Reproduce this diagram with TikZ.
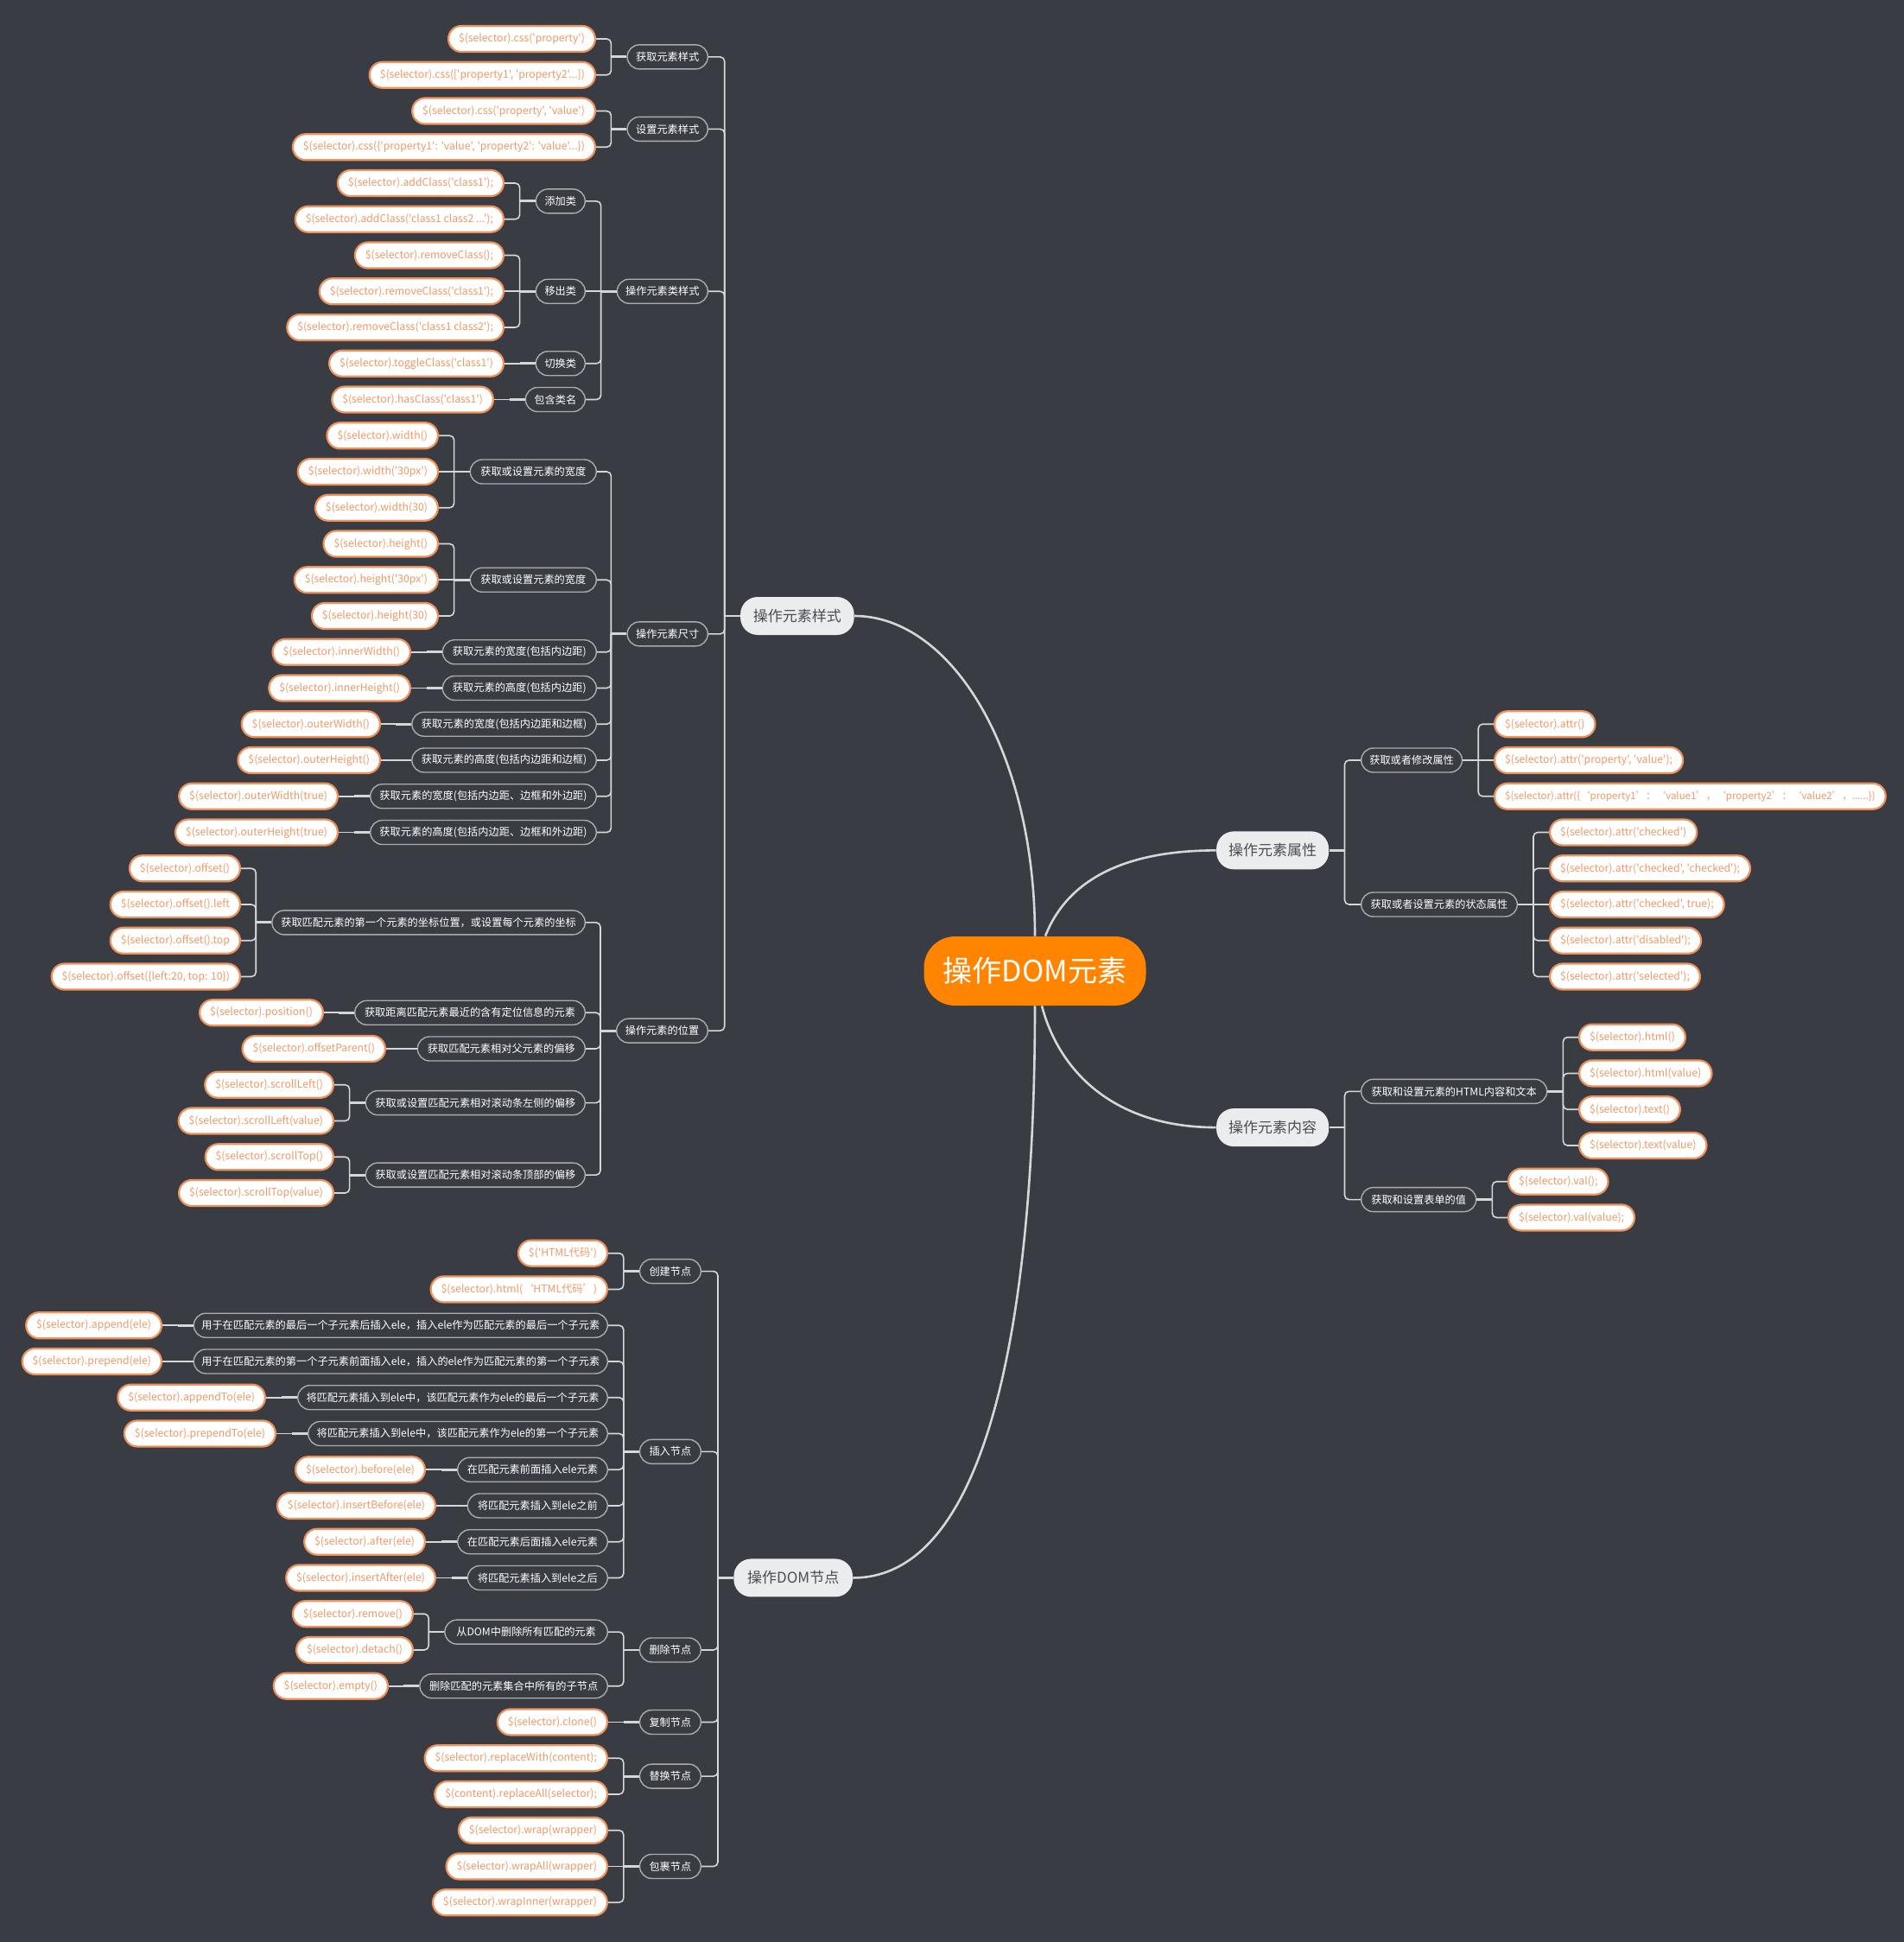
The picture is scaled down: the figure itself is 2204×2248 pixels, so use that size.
\documentclass[tikz,border=0pt]{standalone}
\usepackage{fontspec}
\newfontfamily\cjk{Noto Sans CJK SC}

\definecolor{bg}{RGB}{57,60,66}
\definecolor{wire}{RGB}{214,215,218}
\definecolor{leafline}{RGB}{240,146,92}
\definecolor{leaftext}{RGB}{242,152,100}
\definecolor{subline}{RGB}{170,172,176}
\definecolor{topicfill}{RGB}{235,236,238}
\definecolor{topictext}{RGB}{75,77,82}
\definecolor{rootfill}{RGB}{255,133,0}

\tikzset{
  leaf/.style={draw=leafline,line width=1.1pt,fill=white,text=leaftext,rounded corners=7.5pt,
    minimum height=15pt,inner xsep=6pt,inner ysep=0pt,font=\cjk\fontsize{6.1}{7}\selectfont},
  sub/.style={draw=subline,line width=0.7pt,fill=bg,text=white,rounded corners=7pt,
    minimum height=14pt,inner xsep=4pt,inner ysep=0pt,font=\cjk\fontsize{6.1}{7}\selectfont},
  topic/.style={fill=topicfill,text=topictext,rounded corners=10pt,minimum height=22pt,
    inner xsep=6pt,font=\cjk\fontsize{8.5}{10}\selectfont},
  root/.style={fill=rootfill,text=white,rounded corners=18pt,minimum width=128.5pt,
    minimum height=40pt,font=\cjk\fontsize{17}{19}\selectfont},
  link/.style={draw=wire,line width=0.8pt,rounded corners=2.5pt},
  stem/.style={draw=wire,line width=1.4pt},
  curve/.style={draw=wire,line width=1.3pt}
}

% elbow from a node anchor to a bracket point, straight when both lie on one row
\newcommand{\elbow}[2]{%
  \path (#1); \pgfgetlastxy{\elax}{\elay}
  \path (#2); \pgfgetlastxy{\elbx}{\elby}
  \pgfmathparse{abs(\elay-\elby)}
  \ifdim\pgfmathresult pt<0.5pt \draw[link] (#1) -- (#2); \else \draw[link] (#1) -| (#2); \fi}

\begin{document}
\begin{tikzpicture}[x=0.5pt,y=-0.5pt,
    declare function={toprow(\n)=45+41.75*\n; botrow(\n)=1450.7+41.75*\n; conrow(\n)=1200.7+41.75*\n;}]
  \useasboundingbox (0,0) rectangle (2204,2248);
  \fill[bg] (0,0) rectangle (2204,2248);

  % centre and main topics
  \node[root] (root) at (1198,1124) {操作DOM元素};
  \node[topic,minimum width=65.8pt,anchor=west] (style) at (856.7,{toprow(16)}) {操作元素样式};
  \node[topic,minimum width=65pt,anchor=west] (attr) at (1407.7,{toprow(22.5)}) {操作元素属性};
  \node[topic,minimum width=65pt,anchor=west] (content) at (1407.7,{conrow(2.5)}) {操作元素内容};
  \node[topic,minimum width=68.8pt,anchor=west] (dom) at (849,{botrow(9)}) {操作DOM节点};

  \draw[curve] (style.east) .. controls +(112,0) and +(0,-214) .. (root.north);
  \draw[curve] ([xshift=6pt]root.north) .. controls +(25,-64) and +(-108,0) .. (attr.west);
  \draw[curve] ([xshift=4pt]root.south) .. controls +(20,76) and +(-118,0) .. (content.west);
  \draw[curve] (root.south) .. controls +(0,336) and +(163,0) .. (dom.east);

  \coordinate (b-style) at ([xshift=-9pt]style.west);
  \coordinate (b-dom) at ([xshift=-9pt]dom.west);
  \coordinate (b-attr) at ([xshift=9pt]attr.east);
  \coordinate (b-content) at ([xshift=9pt]content.east);
  \draw[stem] (b-style) -- (style.west);
  \draw[stem] (b-dom) -- (dom.west);
  \draw[stem] (attr.east) -- (b-attr);
  \draw[stem] (content.east) -- (b-content);

  % left subtopics
  \foreach \q/\p/\x/\k/\w/\txt in {
      style/getcss/820/0.5/46.6pt/获取元素样式,
      style/setcss/820/2.5/46.6pt/设置元素样式,
      style/cls/820/7/52.5pt/操作元素类样式,
      style/size/820/16.5/46.6pt/操作元素尺寸,
      style/pos/820/27.5/52.8pt/操作元素的位置,
      cls/addcls/678/4.5/28.5pt/添加类,
      cls/rmcls/678/7/28.5pt/移出类,
      cls/tglcls/678/9/28.5pt/切换类,
      cls/hascls/678/10/34.5pt/包含类名,
      size/wid/691/12/73pt/获取或设置元素的宽度,
      size/hei/691/15/73pt/获取或设置元素的宽度,
      size/iw/691/17/89pt/{获取元素的宽度(包括内边距)},
      size/ih/691/18/89pt/{获取元素的高度(包括内边距)},
      size/ow/691/19/106.7pt/{获取元素的宽度(包括内边距和边框)},
      size/oh/691/20/106.7pt/{获取元素的高度(包括内边距和边框)},
      size/owt/691/21/130.8pt/{获取元素的宽度(包括内边距、边框和外边距)},
      size/oht/691/22/130.8pt/{获取元素的高度(包括内边距、边框和外边距)},
      pos/offs/678/24.5/181.2pt/{获取匹配元素的第一个元素的坐标位置，或设置每个元素的坐标},
      pos/posi/678/27/133.3pt/获取距离匹配元素最近的含有定位信息的元素,
      pos/opar/678/28/97pt/获取匹配元素相对父元素的偏移,
      pos/sl/678/29.5/127pt/获取或设置匹配元素相对滚动条左侧的偏移,
      pos/st/678/31.5/127pt/获取或设置匹配元素相对滚动条顶部的偏移}{
    \node[sub,minimum width=\w,anchor=east] (\p) at (\x,{toprow(\k)}) {\txt};
    \coordinate (b-\p) at ([xshift=-9pt]\p.west);
    \draw[stem] (b-\p) -- (\p.west);
    \elbow{\p.east}{b-\q}
  }
  \foreach \q/\p/\x/\k/\w/\txt in {
      dom/mk/812/0.5/35.4pt/创建节点,
      dom/ins/812/5.5/35.4pt/插入节点,
      dom/del/812/11/35.4pt/删除节点,
      dom/cp/812/13/35.4pt/复制节点,
      dom/rep/812/14.5/35.4pt/替换节点,
      dom/wrap/812/17/35.4pt/包裹节点,
      ins/ins1/704/2/239.5pt/{用于在匹配元素的最后一个子元素后插入ele，插入ele作为匹配元素的最后一个子元素},
      ins/ins2/704/3/239.5pt/{用于在匹配元素的第一个子元素前面插入ele，插入的ele作为匹配元素的第一个子元素},
      ins/ins3/704/4/179.3pt/{将匹配元素插入到ele中，该匹配元素作为ele的最后一个子元素},
      ins/ins4/704/5/173.3pt/{将匹配元素插入到ele中，该匹配元素作为ele的第一个子元素},
      ins/ins5/704/6/86.8pt/在匹配元素前面插入ele元素,
      ins/ins6/704/7/81pt/将匹配元素插入到ele之前,
      ins/ins7/704/8/86.8pt/在匹配元素后面插入ele元素,
      ins/ins8/704/9/81pt/将匹配元素插入到ele之后,
      del/del1/704/10.5/94.2pt/从DOM中删除所有匹配的元素,
      del/del2/704/12/108.7pt/删除匹配的元素集合中所有的子节点}{
    \node[sub,minimum width=\w,anchor=east] (\p) at (\x,{botrow(\k)}) {\txt};
    \coordinate (b-\p) at ([xshift=-9pt]\p.west);
    \draw[stem] (b-\p) -- (\p.west);
    \elbow{\p.east}{b-\q}
  }

  % right subtopics
  \foreach \q/\p/\y/\w/\txt in {
      attr/prop/{toprow(20)}/58.4pt/获取或者修改属性,
      attr/state/{toprow(24)}/90.3pt/获取或者设置元素的状态属性,
      content/html/{conrow(1.5)}/107.5pt/获取和设置元素的HTML内容和文本,
      content/form/{conrow(4.5)}/66.5pt/获取和设置表单的值}{
    \node[sub,minimum width=\w,anchor=west] (\p) at (1575,{\y}) {\txt};
    \coordinate (b-\p) at ([xshift=9pt]\p.east);
    \draw[stem] (\p.east) -- (b-\p);
    \elbow{\p.west}{b-\q}
  }

  % leaves
  \foreach \p/\x/\k/\txt in {
      getcss/690/0/{\$(selector).css('property')},
      getcss/690/1/{\$(selector).css(['property1', 'property2'...])},
      setcss/690/2/{\$(selector).css('property', 'value')},
      setcss/690/3/{\$(selector).css(\{'property1': 'value', 'property2': 'value'...\})},
      addcls/584/4/{\$(selector).addClass('class1');},
      addcls/584/5/{\$(selector).addClass('class1 class2 ...');},
      rmcls/584/6/{\$(selector).removeClass();},
      rmcls/584/7/{\$(selector).removeClass('class1');},
      rmcls/584/8/{\$(selector).removeClass('class1 class2');},
      tglcls/584/9/{\$(selector).toggleClass('class1')},
      hascls/572/10/{\$(selector).hasClass('class1')},
      wid/508/11/{\$(selector).width()},
      wid/508/12/{\$(selector).width('30px')},
      wid/508/13/{\$(selector).width(30)},
      hei/508/14/{\$(selector).height()},
      hei/508/15/{\$(selector).height('30px')},
      hei/508/16/{\$(selector).height(30)},
      iw/476/17/{\$(selector).innerWidth()},
      ih/476/18/{\$(selector).innerHeight()},
      ow/441/19/{\$(selector).outerWidth()},
      oh/441/20/{\$(selector).outerHeight()},
      owt/392/21/{\$(selector).outerWidth(true)},
      oht/392/22/{\$(selector).outerHeight(true)},
      offs/279/23/{\$(selector).offset()},
      offs/279/24/{\$(selector).offset().left},
      offs/279/25/{\$(selector).offset().top},
      offs/279/26/{\$(selector).offset(\{left:20, top: 10\})},
      posi/375/27/{\$(selector).position()},
      opar/447/28/{\$(selector).offsetParent()},
      sl/387/29/{\$(selector).scrollLeft()},
      sl/387/30/{\$(selector).scrollLeft(value)},
      st/387/31/{\$(selector).scrollTop()},
      st/387/32/{\$(selector).scrollTop(value)}}{
    \node[leaf,anchor=east] (\p-\k) at (\x,{toprow(\k)}) {\txt};
    \elbow{\p-\k.east}{b-\p}
  }
  \foreach \p/\x/\k/\txt in {
      mk/704/0/{\$('HTML代码')},
      mk/704/1/{\$(selector).html(‘HTML代码’)},
      ins1/188/2/{\$(selector).append(ele)},
      ins2/188/3/{\$(selector).prepend(ele)},
      ins3/308/4/{\$(selector).appendTo(ele)},
      ins4/320/5/{\$(selector).prependTo(ele)},
      ins5/493/6/{\$(selector).before(ele)},
      ins6/505/7/{\$(selector).insertBefore(ele)},
      ins7/493/8/{\$(selector).after(ele)},
      ins8/505/9/{\$(selector).insertAfter(ele)},
      del1/479/10/{\$(selector).remove()},
      del1/479/11/{\$(selector).detach()},
      del2/450/12/{\$(selector).empty()},
      cp/704/13/{\$(selector).clone()},
      rep/704/14/{\$(selector).replaceWith(content);},
      rep/704/15/{\$(content).replaceAll(selector);},
      wrap/704/16/{\$(selector).wrap(wrapper)},
      wrap/704/17/{\$(selector).wrapAll(wrapper)},
      wrap/704/18/{\$(selector).wrapInner(wrapper)}}{
    \node[leaf,anchor=east] (\p-\k) at (\x,{botrow(\k)}) {\txt};
    \elbow{\p-\k.east}{b-\p}
  }
  \foreach \p/\x/\k/\txt in {
      prop/1729/19/{\$(selector).attr()},
      prop/1729/20/{\$(selector).attr('property', 'value');},
      state/1793/22/{\$(selector).attr('checked')},
      state/1793/23/{\$(selector).attr('checked', 'checked');},
      state/1793/24/{\$(selector).attr('checked', true);},
      state/1793/25/{\$(selector).attr('disabled');},
      state/1793/26/{\$(selector).attr('selected');}}{
    \node[leaf,anchor=west] (\p-\k) at (\x,{toprow(\k)}) {\txt};
    \elbow{\p-\k.west}{b-\p}
  }
  \node[leaf,anchor=west,font=\cjk\fontsize{5.75}{7}\selectfont] (prop-21) at (1729,{toprow(21)})
    {\$(selector).attr(\{‘property1’：‘value1’，‘property2’：‘value2’，......\})};
  \elbow{prop-21.west}{b-prop}
  \foreach \p/\x/\k/\txt in {
      html/1827/0/{\$(selector).html()},
      html/1827/1/{\$(selector).html(value)},
      html/1827/2/{\$(selector).text()},
      html/1827/3/{\$(selector).text(value)},
      form/1745/4/{\$(selector).val();},
      form/1745/5/{\$(selector).val(value);}}{
    \node[leaf,anchor=west] (\p-\k) at (\x,{conrow(\k)}) {\txt};
    \elbow{\p-\k.west}{b-\p}
  }
\end{tikzpicture}
\end{document}
